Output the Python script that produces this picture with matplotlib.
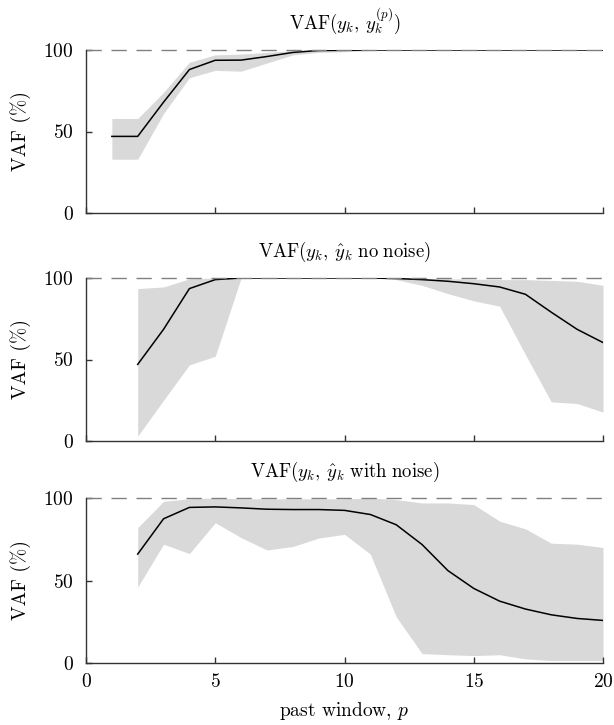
import numpy as np
import matplotlib
matplotlib.use("Agg")
import matplotlib.pyplot as plt

plt.rcParams["font.family"] = "cmr10"
plt.rcParams["mathtext.fontset"] = "cm"
plt.rcParams["axes.formatter.use_mathtext"] = True

# ---- data ------------------------------------------------------------
p1 = np.arange(1, 21)
mean1 = [47, 47, 68, 88, 93.7, 93.8, 96, 98.5, 99.7, 99.8,
         100, 100, 100, 100, 100, 100, 100, 100, 100, 100]
upper1 = [58, 58, 74, 92.5, 97, 97.5, 98.5, 99.6, 100, 100,
          100, 100, 100, 100, 100, 100, 100, 100, 100, 100]
lower1 = [33, 33, 61, 83, 87.5, 87, 92, 97, 98.5, 99,
          99.6, 100, 100, 100, 100, 100, 100, 100, 100, 100]

p2 = np.arange(2, 21)
mean2 = [47, 68.5, 93.5, 99, 100, 100, 100, 100, 100, 100,
         99.7, 99, 98, 96.5, 94.5, 90, 79, 68.5, 60.4]
upper2 = [93.5, 94.5, 99.5, 100, 100, 100, 100, 100, 100, 100,
          100, 99.8, 99.5, 99.3, 99, 99, 98.5, 98, 95.5]
lower2 = [3, 25, 46.7, 52, 100, 100, 100, 100, 100, 100,
          99, 95.5, 90.4, 86, 82.7, 53, 24, 23, 17.7]

p3 = np.arange(2, 21)
mean3 = [66, 87.4, 94.3, 94.6, 94, 93.2, 93, 93, 92.5, 90,
         83.8, 71.8, 56, 45.2, 37.5, 32.7, 29.2, 27, 25.8]
upper3 = [82, 98, 99.5, 100, 99.5, 99.5, 99.5, 99.5, 99.5, 100,
          99, 97, 97, 96, 86, 81.3, 72.6, 72, 70]
lower3 = [46, 72, 66.3, 85, 76, 68.5, 70.6, 75.7, 78, 66,
          28, 5.7, 5, 4.5, 5, 2.5, 1.5, 1.5, 1.5]

titles = [
    r"$\mathrm{VAF}(y_k,\, y_k^{(p)})$",
    r"$\mathrm{VAF}(y_k,\, \hat{y}_k\ \mathrm{no\ noise})$",
    r"$\mathrm{VAF}(y_k,\, \hat{y}_k\ \mathrm{with\ noise})$",
]

panels = [
    (p1, mean1, upper1, lower1),
    (p2, mean2, upper2, lower2),
    (p3, mean3, upper3, lower3),
]

# axes boxes (pixel rows of the 0 and 100 gridlines in a 725 px tall figure)
rows = [(50, 213), (278, 441), (498, 663)]
left, right = 86 / 614, 603 / 614

fig = plt.figure(figsize=(6.14, 7.25), dpi=100)

for i, ((x, m, up, lo), (top, bot), title) in enumerate(zip(panels, rows, titles)):
    ax = fig.add_axes((left, 1 - bot / 725, right - left, (bot - top) / 725))
    ax.fill_between(x, lo, up, color="#d9d9d9", linewidth=0)
    ax.plot(x, m, color="black", linewidth=1.1)
    ax.axhline(100, color="#808080", linewidth=1.0, dashes=(11, 7), clip_on=False)

    ax.set_xlim(0, 20)
    ax.set_ylim(0, 100)
    ax.set_xticks([0, 5, 10, 15, 20])
    ax.set_yticks([0, 50, 100])
    ax.spines["top"].set_visible(False)
    ax.spines["right"].set_visible(False)
    for s in ("left", "bottom"):
        ax.spines[s].set_color("#333333")
        ax.spines[s].set_linewidth(1.0)
    ax.tick_params(direction="in", length=4, width=1.0, color="#333333",
                   labelsize=14)
    ax.tick_params(axis="y", pad=9)
    ax.tick_params(axis="x", pad=7)

    ax.set_title(title, fontsize=13.5, pad=15)
    ax.set_ylabel("VAF (%)", fontsize=14, labelpad=9)

    if i < 2:
        ax.tick_params(axis="x", labelbottom=False)
    else:
        ax.set_xlabel(r"past window, $p$", fontsize=14, labelpad=7)

fig.savefig("out.png", dpi=100)
